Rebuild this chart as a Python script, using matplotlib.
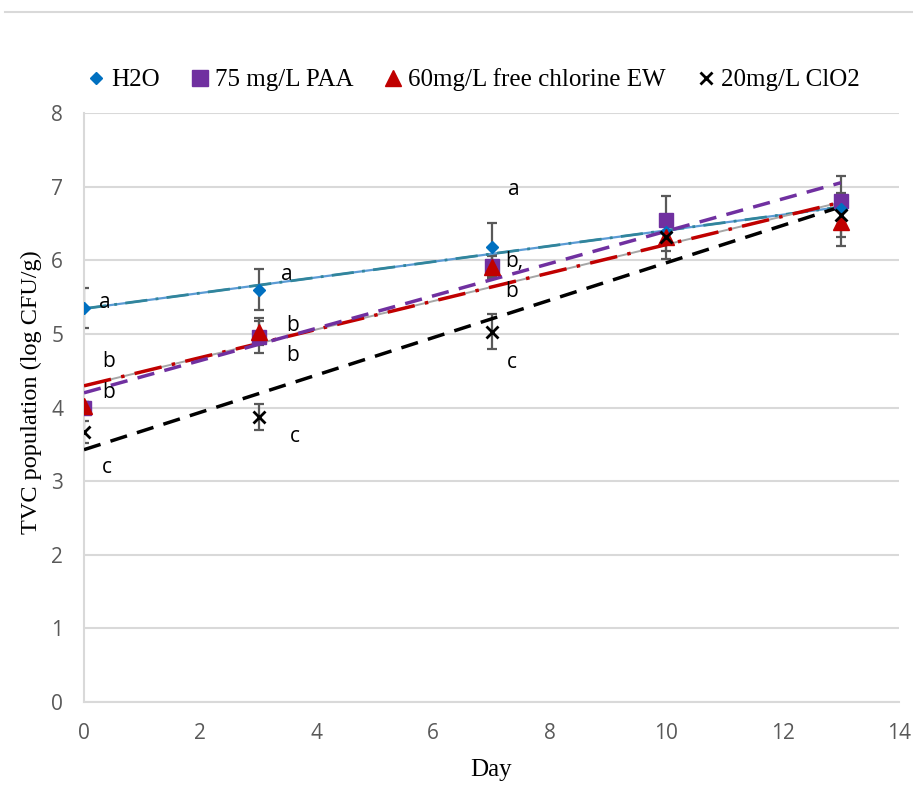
import numpy as np
import matplotlib
matplotlib.use('Agg')
import matplotlib.pyplot as plt
from matplotlib.lines import Line2D

# data
days = [0, 3, 7, 10, 13]

h2o = [5.35, 5.60, 6.18, 6.39, 6.70]
h2o_err = [0.27, 0.28, 0.32, 0.0, 0.0]

paa = [4.00, 4.96, 5.92, 6.55, 6.81]
paa_err = [0.08, 0.22, 0.15, 0.32, 0.33]

ew = [4.02, 5.03, 5.91, 6.32, 6.52]
ew_err = [0.06, 0.18, 0.15, 0.20, 0.33]

clo2 = [3.67, 3.87, 5.03, 6.32, 6.62]
clo2_err = [0.15, 0.18, 0.24, 0.30, 0.30]

# significance letters: (day, value, text)
letters = [
    (0.26, 5.42, 'a'), (3.39, 5.80, 'a'), (7.29, 6.96, 'a'),
    (3.47, 5.12, 'b'), (3.47, 4.71, 'b'),
    (0.31, 4.62, 'b'), (0.31, 4.20, 'b'),
    (7.24, 5.98, 'b,'), (7.24, 5.58, 'b'),
    (0.31, 3.18, 'c'), (3.53, 3.61, 'c'), (7.27, 4.61, 'c'),
]

serif = 'Liberation Serif'
sans = 'Open Sans'
grey = '#595959'

fig = plt.figure(figsize=(9.13, 7.96), dpi=100)
ax = fig.add_axes([84 / 913, 1 - 702 / 796, (899 - 84) / 913, (702 - 113) / 796])

x = np.array(days)
xx = np.array([0, 13])


def trend(y):
    k, b = np.polyfit(x, y, 1)
    return k * xx + b


# error bars
for y, e in [(h2o, h2o_err), (paa, paa_err), (ew, ew_err), (clo2, clo2_err)]:
    ax.errorbar(x, y, yerr=e, fmt='none', ecolor=grey, elinewidth=1.6,
                capsize=3.5, capthick=1.6, zorder=2)

# trend lines
ax.plot(xx, trend(h2o), color='#5B9BD5', lw=1.6, zorder=3)
ax.plot(xx, trend(h2o), color='#31859C', lw=2.0, dashes=(8, 3, 1, 3), zorder=3)
ax.plot(xx, trend(ew), color='#A6A6A6', lw=1.4, zorder=3)
ax.plot(xx, trend(ew), color='#C00000', lw=2.5, dashes=(8, 3, 1, 3), zorder=3)
ax.plot(xx, trend(paa), color='#7030A0', lw=2.5, dashes=(5, 3), zorder=3)
ax.plot(xx, trend(clo2), color='black', lw=2.5, dashes=(5, 3), zorder=3)

# markers
ax.plot(x, h2o, 'D', color='#0070C0', ms=6, ls='none', zorder=5)
ax.plot(x, paa, 's', color='#7030A0', ms=10.5, ls='none', zorder=4)
ax.plot(x, ew, '^', color='#C00000', ms=11, ls='none', zorder=5)
ax.plot(x, clo2, 'x', color='black', ms=8, mew=2, ls='none', zorder=6)

for lx, ly, t in letters:
    ax.text(lx, ly, t, fontsize=15, family=sans, color='black', va='center', ha='left')

ax.set_xlim(0, 14)
ax.set_ylim(0, 8)
ax.set_xticks(range(0, 15, 2))
ax.set_yticks(range(0, 9))
ax.tick_params(length=0, labelsize=15, labelcolor=grey, pad=15)
for lab in ax.get_xticklabels() + ax.get_yticklabels():
    lab.set_family(sans)
ax.grid(axis='y', color='#D9D9D9', lw=1.5)
ax.set_axisbelow(True)
for s in ['top', 'right']:
    ax.spines[s].set_visible(False)
for s in ['left', 'bottom']:
    ax.spines[s].set_color('#D9D9D9')
    ax.spines[s].set_linewidth(1.5)

ax.set_xlabel('Day', family=serif, fontsize=18)
ax.set_ylabel('TVC population (log CFU/g)', family=serif, fontsize=17.5)
ax.xaxis.set_label_coords(0.5, -0.097)
ax.yaxis.set_label_coords(-0.052, 0.526)

handles = [
    Line2D([], [], marker='D', color='#0070C0', ls='none', ms=6),
    Line2D([], [], marker='s', color='#7030A0', ls='none', ms=11),
    Line2D([], [], marker='^', color='#C00000', ls='none', ms=11),
    Line2D([], [], marker='x', color='black', ls='none', ms=9, mew=2),
]
names = ['H2O', '75 mg/L PAA', '60mg/L free chlorine EW', '20mg/L ClO2']
fig.legend(handles, names, loc='center', bbox_to_anchor=(0.515, 1 - 80 / 796), ncol=4,
           frameon=False, prop={'family': serif, 'size': 18}, handletextpad=0.0,
           columnspacing=1.0, handlelength=1.2)

# thin grey border line at the top
fig.add_artist(Line2D([5 / 913, 1], [1 - 12 / 796] * 2, color='#D9D9D9', lw=1.5))

fig.savefig('out.png', dpi=100)
